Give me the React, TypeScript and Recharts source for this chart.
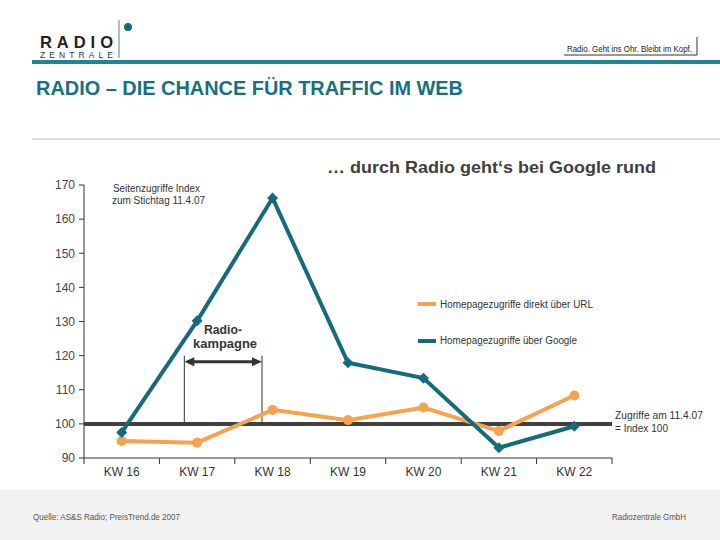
import { CartesianGrid, Line, LineChart, ReferenceLine, XAxis, YAxis } from 'recharts'

const weeks = ['KW 16', 'KW 17', 'KW 18', 'KW 19', 'KW 20', 'KW 21', 'KW 22']
const googleIndex = [97.5, 130.2, 166.2, 117.9, 113.4, 93, 99.3]
const urlIndex = [95, 94.5, 104.1, 101.1, 104.8, 97.9, 108.3]
const yTicks = [90, 100, 110, 120, 130, 140, 150, 160, 170]

// campaign bracket (in week-index units / index values)
const campaignFrom = 0.83
const campaignTo = 1.86
const campaignArrowAt = 118.2

const TEAL = '#146c7b'
const ORANGE = '#f6a24e'
const DARK = '#333333'
const FONT = '"Liberation Sans", Arial, sans-serif'

const data = weeks.map((w, i) => ({ i, week: w, google: googleIndex[i], url: urlIndex[i] }))
const xTicks: number[] = []
weeks.forEach((_, i) => {
  xTicks.push(i - 0.5, i)
})
xTicks.push(weeks.length - 0.5)

function WeekTick(props: any) {
  const { x, y, payload } = props
  const v = payload.value
  if (Number.isInteger(v)) {
    return (
      <text x={x} y={y + 18} textAnchor="middle" fontSize={12} fill={DARK} fontFamily={FONT}>
        {weeks[v]}
      </text>
    )
  }
  return <line x1={x} x2={x} y1={y} y2={y + 6} stroke={DARK} strokeWidth={1} />
}

function Diamond(props: any) {
  const { cx, cy, index } = props
  return (
    <path
      key={'d' + index}
      d={`M${cx},${cy - 5.5}L${cx + 5.5},${cy}L${cx},${cy + 5.5}L${cx - 5.5},${cy}Z`}
      fill={TEAL}
    />
  )
}

function Arrow(props: any) {
  const { x1, y1, x2 } = props
  const h = 8
  return (
    <g>
      <line x1={x1 + h} x2={x2 - h} y1={y1} y2={y1} stroke={DARK} strokeWidth={3} />
      <path d={`M${x1},${y1}L${x1 + h + 2},${y1 - 4.5}L${x1 + h + 2},${y1 + 4.5}Z`} fill={DARK} />
      <path d={`M${x2},${y1}L${x2 - h - 2},${y1 - 4.5}L${x2 - h - 2},${y1 + 4.5}Z`} fill={DARK} />
    </g>
  )
}

function Decor() {
  return (
    <svg width={720} height={540} style={{ position: 'absolute', left: 0, top: 0 }} fontFamily={FONT}>
      <rect x={0} y={0} width={720} height={540} fill="#fff" />
      {/* logo */}
      <text x={40} y={48} fontSize={16.5} fontWeight="bold" fill="#222" textLength={73} lengthAdjust="spacing">
        RADIO
      </text>
      <text x={40} y={57.5} fontSize={8.5} fill="#333" textLength={73} lengthAdjust="spacing">
        ZENTRALE
      </text>
      <line x1={119} x2={119} y1={20} y2={58} stroke="#777" strokeWidth={1} />
      <circle cx={128} cy={27} r={4} fill={TEAL} />
      <rect x={32} y={60} width={688} height={4} fill="#1f8596" />
      <text x={567} y={52} fontSize={9} fill="#222" textLength={125} lengthAdjust="spacingAndGlyphs">
        Radio. Geht ins Ohr. Bleibt im Kopf.
      </text>
      <line x1={564} x2={697} y1={55} y2={55} stroke={DARK} strokeWidth={1} />
      <line x1={697} x2={697} y1={37} y2={55} stroke={DARK} strokeWidth={1} />
      {/* title */}
      <text x={36} y={95} fontSize={20} fontWeight="bold" fill="#17707f" textLength={427} lengthAdjust="spacingAndGlyphs">
        RADIO – DIE CHANCE FÜR TRAFFIC IM WEB
      </text>
      <line x1={32} x2={720} y1={139} y2={139} stroke="#dddddd" strokeWidth={2} />
      <text x={327} y={173} fontSize={17} fontWeight="bold" fill="#404040" textLength={329} lengthAdjust="spacingAndGlyphs">
        … durch Radio geht‘s bei Google rund
      </text>
      {/* chart notes */}
      <text x={113} y={192} fontSize={10} fill={DARK} textLength={87} lengthAdjust="spacingAndGlyphs">
        Seitenzugriffe Index
      </text>
      <text x={112} y={204} fontSize={10} fill={DARK} textLength={93} lengthAdjust="spacingAndGlyphs">
        zum Stichtag 11.4.07
      </text>
      <text x={204} y={334} fontSize={13.5} fontWeight="bold" fill={DARK} textLength={38} lengthAdjust="spacingAndGlyphs">
        Radio-
      </text>
      <text x={193} y={348} fontSize={13.5} fontWeight="bold" fill={DARK} textLength={64} lengthAdjust="spacingAndGlyphs">
        kampagne
      </text>
      <text x={615} y={419} fontSize={10} fill={DARK} textLength={88} lengthAdjust="spacingAndGlyphs">
        Zugriffe am 11.4.07
      </text>
      <text x={615} y={432} fontSize={10} fill={DARK} textLength={53} lengthAdjust="spacingAndGlyphs">
        = Index 100
      </text>
      {/* legend */}
      <rect x={418} y={302} width={18} height={4} fill={ORANGE} />
      <text x={440} y={308} fontSize={10} fill={DARK} textLength={153} lengthAdjust="spacingAndGlyphs">
        Homepagezugriffe direkt über URL
      </text>
      <rect x={418} y={339} width={18} height={4} fill={TEAL} />
      <text x={440} y={344} fontSize={10} fill={DARK} textLength={137} lengthAdjust="spacingAndGlyphs">
        Homepagezugriffe über Google
      </text>
      {/* footer */}
      <rect x={0} y={490} width={720} height={50} fill="#f2f2f2" />
      <text x={33} y={520} fontSize={9} fill="#555" textLength={147} lengthAdjust="spacingAndGlyphs">
        Quelle: AS&amp;S Radio; PreisTrend.de 2007
      </text>
      <text x={612} y={520} fontSize={9} fill="#555" textLength={74} lengthAdjust="spacingAndGlyphs">
        Radiozentrale GmbH
      </text>
    </svg>
  )
}

export default function App() {
  return (
    <div style={{ position: 'absolute', left: 0, top: 0, width: 720, height: 540, fontFamily: FONT }}>
      <Decor />
      <div style={{ position: 'absolute', left: 0, top: 0 }}>
        <LineChart width={720} height={540} data={data} margin={{ top: 185, right: 108, bottom: 52, left: 44 }}>
          <CartesianGrid stroke="none" />
          <XAxis
            xAxisId="x"
            dataKey="i"
            type="number"
            domain={[-0.5, weeks.length - 0.5]}
            ticks={xTicks}
            interval={0}
            tick={<WeekTick />}
            tickLine={false}
            tickSize={0}
            tickMargin={0}
            height={30}
            axisLine={{ stroke: DARK }}
            allowDataOverflow
          />
          <YAxis
            domain={[90, 170]}
            ticks={yTicks}
            interval={0}
            width={40}
            tickSize={5}
            tickMargin={4}
            axisLine={{ stroke: DARK }}
            tickLine={{ stroke: DARK }}
            tick={{ fill: '#444', fontSize: 12, fontFamily: FONT }}
            allowDataOverflow
          />
          <ReferenceLine xAxisId="x" y={100} stroke="#404040" strokeWidth={4} />
          <ReferenceLine
            xAxisId="x"
            segment={[{ x: campaignFrom, y: 100 }, { x: campaignFrom, y: 120 }]}
            stroke={DARK}
            strokeWidth={1}
          />
          <ReferenceLine
            xAxisId="x"
            segment={[{ x: campaignTo, y: 100 }, { x: campaignTo, y: 120 }]}
            stroke={DARK}
            strokeWidth={1}
          />
          <ReferenceLine
            xAxisId="x"
            segment={[{ x: campaignFrom, y: campaignArrowAt }, { x: campaignTo, y: campaignArrowAt }]}
            shape={<Arrow />}
          />
          <Line
            xAxisId="x"
            dataKey="url"
            stroke={ORANGE}
            strokeWidth={4}
            dot={{ r: 5, fill: ORANGE, stroke: ORANGE, strokeWidth: 0 }}
            activeDot={false}
            isAnimationActive={false}
          />
          <Line
            xAxisId="x"
            dataKey="google"
            stroke={TEAL}
            strokeWidth={4}
            dot={<Diamond />}
            activeDot={false}
            isAnimationActive={false}
          />
        </LineChart>
      </div>
    </div>
  )
}
